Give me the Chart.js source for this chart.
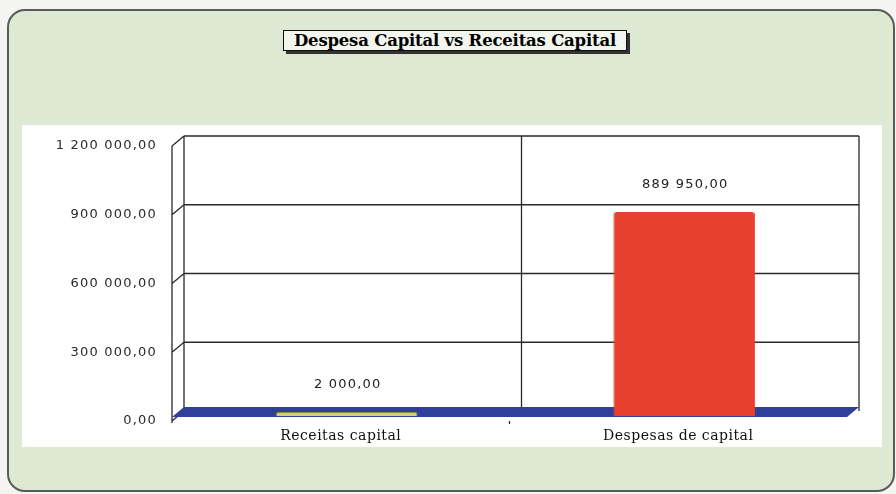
<!DOCTYPE html>
<html>
<head>
<meta charset="utf-8">
<script src="https://cdn.jsdelivr.net/npm/chart.js@4"></script>
<style>
body{margin:0;width:896px;height:494px;background:#f4f5f1;position:relative;overflow:hidden}
#painel{position:absolute;left:7px;top:9px;width:884px;height:479px;background:#dde9d3;border:2px solid #5a5a5a;border-radius:18px}
#fundo{position:absolute;left:22px;top:125px;width:860px;height:322px;background:#fff}
#titulo{position:absolute;left:283px;top:30px;width:342px;height:19px;background:#f3f6ef;border:1.5px solid #111;
  box-shadow:3px 3px 0 #333;font:bold 16.5px "DejaVu Serif",serif;line-height:19px;text-align:center;color:#000;white-space:nowrap;letter-spacing:-0.2px}
canvas{position:absolute;left:0;top:0}
</style>
</head>
<body>
<div id="painel"></div>
<div id="fundo"></div>
<div id="titulo">Despesa Capital vs Receitas Capital</div>
<div style="position:absolute;left:0;top:0;width:896px;height:494px"><canvas id="grafica"></canvas></div>
<script>
var categorias = ["Receitas capital", "Despesas de capital"];
var valores = [2000, 889950];
var coresBarras = ["#d2cf78", "#e8402f"];
var bordasBarras = ["#8d8b3c", "#e8402f"];
var ticksY = [0, 300000, 600000, 900000, 1200000];

function formatar(v){
    var partes = Number(v).toFixed(2).split(".");
    var inteiro = partes[0].replace(/\B(?=(\d{3})+(?!\d))/g, " ");
    return inteiro + "," + partes[1];
}

// espacamento entre letras nos numeros, como no original
var espacar = {
    id: "espacar",
    beforeDraw: function(chart){ chart.ctx.letterSpacing = "1.2px"; }
};

// paredes, grelha e chao em perspectiva
var parede = {
    id: "parede",
    beforeDatasetsDraw: function(chart){
        var ctx = chart.ctx, a = chart.chartArea, y = chart.scales.y;
        var dx = 6, dy = 5;
        ctx.save();
        ctx.strokeStyle = "#2a2a2a";
        ctx.lineWidth = 1.3;
        ctx.beginPath();
        ticksY.forEach(function(v){
            var py = y.getPixelForValue(v) - dy;
            if (v > 0) {
                ctx.moveTo(a.left + dx, py);
                ctx.lineTo(a.right + dx, py);
            }
            ctx.moveTo(a.left - dx, py + 2 * dy);
            ctx.lineTo(a.left + dx, py);
        });
        ctx.moveTo(a.left + dx, a.top - dy);
        ctx.lineTo(a.left + dx, a.bottom - dy);
        ctx.moveTo(a.left - dx, a.top + dy);
        ctx.lineTo(a.left - dx, a.bottom + dy + 2);
        ctx.moveTo(a.right + dx, a.top - dy);
        ctx.lineTo(a.right + dx, a.bottom - dy);
        var meio = (a.left + a.right) / 2;
        ctx.moveTo(meio + dx, a.top - dy);
        ctx.lineTo(meio + dx, a.bottom - dy);
        ctx.moveTo(meio - dx, a.bottom + dy);
        ctx.lineTo(meio - dx, a.bottom + dy + 3);
        ctx.stroke();

        ctx.fillStyle = "#2f3f9a";
        ctx.beginPath();
        ctx.moveTo(a.left + dx, a.bottom - 9);
        ctx.lineTo(a.right + dx, a.bottom - 9);
        ctx.lineTo(a.right - dx, a.bottom + 1);
        ctx.lineTo(a.left - dx, a.bottom + 1);
        ctx.closePath();
        ctx.fill();
        ctx.restore();
    }
};

// valores por cima das barras; depois muda o espacamento para as categorias
var rotulos = {
    id: "rotulos",
    afterDatasetsDraw: function(chart){
        var ctx = chart.ctx;
        var meta = chart.getDatasetMeta(0);
        ctx.save();
        ctx.font = "13px 'DejaVu Sans'";
        ctx.fillStyle = "#222";
        ctx.textAlign = "center";
        ctx.textBaseline = "middle";
        meta.data.forEach(function(bar, i){
            ctx.fillText(formatar(valores[i]), bar.x + 1, Math.min(bar.y, bar.base - 4) - 27);
        });
        ctx.restore();
        ctx.letterSpacing = "0.5px";
    }
};

var miCanvas = document.getElementById("grafica").getContext("2d");
var chart = new Chart(miCanvas, {
    type: "bar",
    data: {
        labels: categorias,
        datasets: [{
            data: valores,
            backgroundColor: coresBarras,
            borderColor: bordasBarras,
            borderWidth: 1,
            borderRadius: {topLeft: 3, topRight: 3},
            borderSkipped: "bottom",
            minBarLength: 4,
            barPercentage: 0.42,
            categoryPercentage: 1
        }]
    },
    options: {
        responsive: true,
        maintainAspectRatio: false,
        animation: false,
        layout: {padding: {left: 0, right: 43, top: 141, bottom: 30}},
        plugins: {legend: {display: false}, tooltip: {enabled: false}},
        scales: {
            x: {
                grid: {display: false},
                border: {display: false},
                ticks: {
                    z: 1,
                    color: "#111",
                    font: {family: "DejaVu Serif", size: 14},
                    padding: 4,
                    labelOffset: -6
                },
                afterFit: function(s){ s.height = 48; }
            },
            y: {
                min: 0,
                max: 1200000,
                grid: {display: false},
                border: {display: false},
                afterBuildTicks: function(s){ s.ticks = ticksY.map(function(v){ return {value: v}; }); },
                ticks: {
                    color: "#2a2a2a",
                    font: {family: "DejaVu Sans", size: 13},
                    padding: 13,
                    labelOffset: 5,
                    callback: function(v){ return formatar(v); }
                },
                afterFit: function(s){ s.width = 178; }
            }
        }
    },
    plugins: [espacar, parede, rotulos]
});
</script>
</body>
</html>
